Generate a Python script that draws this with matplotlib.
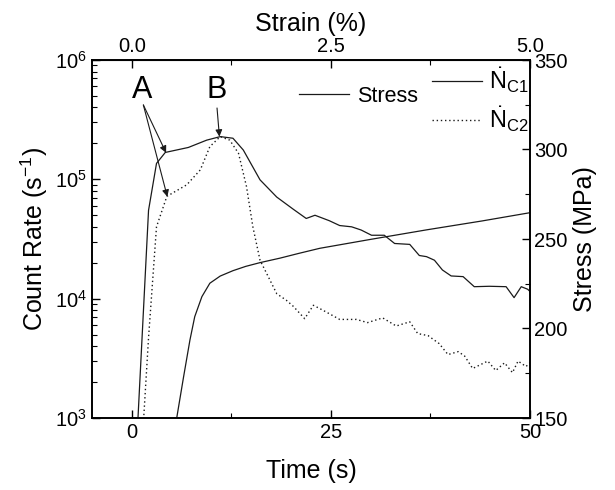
import matplotlib
matplotlib.use("Agg")
import matplotlib.pyplot as plt
from matplotlib.ticker import FixedLocator, LogLocator, NullFormatter, FormatStrFormatter
import numpy as np

plt.rcParams['font.family'] = ['Liberation Sans', 'DejaVu Sans']
plt.rcParams['mathtext.fontset'] = 'custom'
plt.rcParams['mathtext.rm'] = 'Liberation Sans'
plt.rcParams['mathtext.it'] = 'Liberation Sans:italic'
plt.rcParams['mathtext.bf'] = 'Liberation Sans:bold'

# ---- data ----
t_c1 = [0.7, 2.1, 3.1, 4.2, 7.1, 9.4, 11.1, 12.7, 14.0, 16.1, 18.2, 20.3, 21.9, 23.0,
        24.8, 26.1, 27.6, 28.8, 30.1, 31.7, 33.0, 34.9, 36.1, 37.0, 38.0, 39.0, 40.1,
        41.6, 43.0, 44.9, 47.0, 48.0, 48.9, 49.7, 50.0]
n_c1 = [800, 55000, 136000, 168000, 185000, 213000, 228000, 221000, 176000, 99000, 71000,
        56000, 47000, 50000, 45000, 41000, 40000, 37600, 34000, 34000, 29000, 28500,
        23000, 22500, 21000, 17400, 15500, 15300, 12600, 12700, 12600, 10200, 12600,
        12000, 11500]

t_c2 = [1.45, 2.1, 3.1, 4.4, 6.9, 8.6, 9.8, 11.1, 12.3, 13.4, 14.4, 15.2, 16.1, 18.2,
        19.4, 20.3, 21.7, 22.8, 24.0, 26.1, 28.2, 29.6, 31.5, 33.2, 34.9, 35.9, 37.2,
        38.6, 39.7, 41.0, 41.8, 42.8, 44.7, 45.7, 46.8, 47.8, 48.5, 49.5, 50.0]
n_c2 = [900, 4700, 40000, 72000, 90000, 120000, 188000, 228000, 213000, 165000, 87000,
        40000, 21000, 11000, 9700, 8600, 6800, 8800, 8000, 6700, 6700, 6300, 6900, 5900,
        6400, 5100, 4900, 4200, 3400, 3600, 3300, 2600, 3000, 2500, 2900, 2400, 3000,
        2700, 2900]

t_stress = [5.6, 6.5, 7.3, 7.9, 8.8, 9.8, 11.1, 12.7, 14.3, 16.1, 18.6, 21.0, 23.6,
            30.0, 37.0, 44.0, 50.0]
stress = [149, 173, 193.6, 206.6, 217.8, 225.3, 229.3, 232.3, 234.7, 236.8, 239.3, 242.0,
          244.8, 249.8, 255.1, 260.1, 264.7]

x_ticks = [0, 25, 50]
strain_ticks = [0.0, 2.5, 5.0]
stress_ticks = [150, 200, 250, 300, 350]

# ---- figure ----
fig = plt.figure(figsize=(6.15, 4.9), dpi=100)
ax = fig.add_axes([92/615, 1-418/490, (530-92)/615, (418-60)/490])
lc = '#1a1a1a'
TL = 14.5
AL = 18

l1, = ax.plot(t_c1, n_c1, color=lc, lw=0.9, label=r'$\dot{\mathrm{N}}_{\mathrm{C1}}$')
l2, = ax.plot(t_c2, n_c2, color=lc, lw=1.0, linestyle=(0, (1, 2)), label=r'$\dot{\mathrm{N}}_{\mathrm{C2}}$')
ax.set_yscale('log')
ax.set_xlim(-5, 50)
ax.set_ylim(1e3, 1e6)
ax.set_xticks(x_ticks)
ax.xaxis.set_minor_locator(FixedLocator([12.5, 37.5]))
ax.yaxis.set_major_locator(LogLocator(base=10, numticks=10))
ax.yaxis.set_minor_locator(LogLocator(base=10, subs=np.arange(2, 10), numticks=20))
ax.yaxis.set_minor_formatter(NullFormatter())
ax.tick_params(which='both', direction='in', labelsize=TL)
ax.tick_params(which='major', length=6, width=1)
ax.tick_params(which='minor', length=3.5, width=0.8)
ax.tick_params(axis='x', which='both', top=False)
ax.set_xlabel('Time (s)', fontsize=AL, labelpad=12)
ax.set_ylabel('Count Rate (s$^{-1}$)', fontsize=AL, labelpad=4)

ax2 = ax.twinx()
ls, = ax2.plot(t_stress, stress, color=lc, lw=0.9, label='Stress')
ax2.set_ylim(150, 350)
ax2.set_yticks(stress_ticks)
ax2.yaxis.set_minor_locator(FixedLocator([175, 225, 275, 325]))
ax2.tick_params(which='both', direction='in', labelsize=TL, pad=3)
ax2.tick_params(which='major', length=6, width=1)
ax2.tick_params(which='minor', length=3.5, width=0.8)
ax2.set_ylabel('Stress (MPa)', fontsize=AL, labelpad=4)

sec = ax.secondary_xaxis('top', functions=(lambda x: x / 10.0, lambda s: s * 10.0))
sec.set_xticks(strain_ticks)
sec.xaxis.set_major_formatter(FormatStrFormatter('%.1f'))
sec.xaxis.set_minor_locator(FixedLocator([1.25, 3.75]))
sec.tick_params(which='both', direction='in', labelsize=TL, pad=3)
sec.tick_params(which='major', length=6, width=1)
sec.tick_params(which='minor', length=3.5, width=0.8)
sec.set_xlabel('Strain (%)', fontsize=AL, labelpad=4)

for a in (ax, ax2):
    for s in a.spines.values():
        s.set_linewidth(1.2)

# legends
leg1 = ax2.legend(handles=[ls], loc='center left', bbox_to_anchor=(299/615, 1-96/490),
                  bbox_transform=fig.transFigure, frameon=False, fontsize=15.5,
                  handlelength=2.3, handletextpad=0.4, borderpad=0, borderaxespad=0)
leg2 = ax2.legend(handles=[l1, l2], loc='center left', bbox_to_anchor=(432/615, 1-100/490),
                  bbox_transform=fig.transFigure, frameon=False, fontsize=17,
                  handlelength=2.1, handletextpad=0.3, borderpad=0, borderaxespad=0,
                  labelspacing=0.4)
ax2.add_artist(leg1)

# annotations
ap = dict(arrowstyle='-|>', color=lc, lw=0.8, mutation_scale=10, shrinkA=0, shrinkB=0)
ax.text(1.25, 5.6e5, 'A', fontsize=22, ha='center', va='center')
ax.annotate('', xy=(4.3, 1.67e5), xytext=(1.45, 4.2e5), arrowprops=ap)
ax.annotate('', xy=(4.46, 7.15e4), xytext=(1.45, 4.2e5), arrowprops=ap)
ax.text(10.65, 5.6e5, 'B', fontsize=22, ha='center', va='center')
ax.annotate('', xy=(11.0, 2.28e5), xytext=(10.7, 3.96e5), arrowprops=ap)

fig.savefig('out.png', dpi=100)
